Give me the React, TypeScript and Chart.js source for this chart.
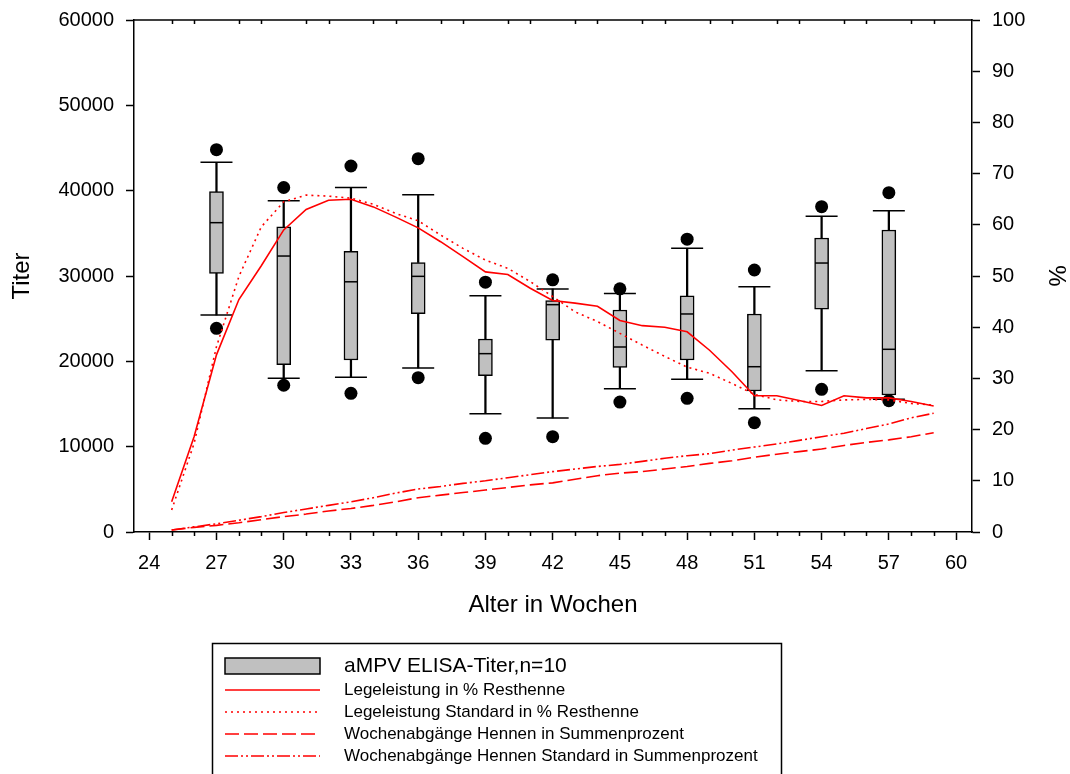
import { useEffect, useRef } from "react";
import { Chart, registerables } from "chart.js";

Chart.register(...registerables);

const FONT = "'Liberation Sans', Arial, Helvetica, sans-serif";

// Weekly flock curves (age in weeks)
const WEEKS = [
  25, 26, 27, 28, 29, 30, 31, 32, 33, 34, 35, 36, 37, 38, 39, 40, 41, 42,
  43, 44, 45, 46, 47, 48, 49, 50, 51, 52, 53, 54, 55, 56, 57, 58, 59,
];
const LAY_ACTUAL = [
  5.9, 18.6, 34.6, 45.4, 52.0, 59.0, 63.0, 64.8, 65.0, 63.5, 61.5, 59.4,
  56.7, 53.8, 50.8, 50.3, 47.6, 45.2, 44.7, 44.1, 41.3, 40.3, 40.0, 39.1,
  35.5, 31.3, 26.6, 26.6, 25.7, 24.7, 26.6, 26.2, 26.2, 25.5, 24.6,
];
const LAY_STANDARD = [
  4.3, 17.3, 36.2, 49.9, 59.6, 64.5, 65.8, 65.6, 65.2, 64.0, 62.2, 60.8,
  58.0, 55.4, 53.1, 51.5, 48.9, 46.0, 43.0, 41.1, 38.8, 36.5, 34.3, 32.2,
  31.0, 29.0, 26.9, 25.8, 25.5, 25.5, 25.8, 25.9, 25.8, 25.1, 24.8,
];
const LOSS_ACTUAL = [
  0.4, 0.9, 1.3, 1.8, 2.4, 3.0, 3.5, 4.1, 4.6, 5.2, 5.9, 6.7, 7.2, 7.7,
  8.2, 8.7, 9.2, 9.6, 10.3, 11.0, 11.5, 11.8, 12.3, 12.8, 13.4, 13.9, 14.6,
  15.2, 15.7, 16.2, 16.9, 17.5, 18.0, 18.6, 19.4,
];
const LOSS_STANDARD = [
  0.4, 1.0, 1.6, 2.3, 3.0, 3.8, 4.5, 5.2, 5.9, 6.7, 7.6, 8.4, 8.9, 9.5,
  10.0, 10.6, 11.2, 11.8, 12.3, 12.8, 13.2, 13.8, 14.4, 14.9, 15.3, 16.0,
  16.6, 17.2, 17.9, 18.6, 19.3, 20.2, 21.1, 22.3, 23.2,
];

// ELISA titre distribution per sampling week
const SAMPLE_WEEKS = [27, 30, 33, 36, 39, 42, 45, 48, 51, 54, 57];
const TITER_P05 = [23870, 17200, 16250, 18080, 10980, 11170, 15230, 15670, 12810, 16720, 15390];
const TITER_P10 = [25430, 18010, 18130, 19220, 13870, 13360, 16800, 17890, 14450, 18900, 15550];
const TITER_Q1 = [30310, 19620, 20160, 25600, 18320, 22470, 19300, 20160, 16520, 26100, 16050];
const TITER_MEDIAN = [36250, 32340, 29320, 29960, 20900, 26640, 21680, 25550, 19370, 31520, 21410];
const TITER_Q3 = [39880, 35760, 32900, 31580, 22620, 27110, 26020, 27670, 25550, 34450, 35390];
const TITER_P90 = [43320, 38830, 40370, 39530, 27690, 28480, 27950, 33250, 28750, 37000, 37650];
const TITER_P95 = [44800, 40370, 42890, 43750, 29280, 29550, 28500, 34320, 30700, 38120, 39760];

// Axis ticks
const X_TICKS = [24, 27, 30, 33, 36, 39, 42, 45, 48, 51, 54, 57, 60];
const Y_TICKS = [0, 10000, 20000, 30000, 40000, 50000, 60000];
const Y2_TICKS = [0, 10, 20, 30, 40, 50, 60, 70, 80, 90, 100];

const RED = "#ff0000";
const BOX_GREY = "#c0c0c0";

const pairs = (xs: number[], ys: number[]) => xs.map((x, i) => ({ x, y: ys[i] }));
const ranges = (xs: number[], lo: number[], hi: number[]) =>
  xs.map((x, i) => ({ x, y: [lo[i], hi[i]] }));

// Frame: top border plus the short weekly ticks on top and bottom edges
const framePlugin = {
  id: "frameTicks",
  afterDraw(chart: any) {
    const { ctx, chartArea: a, scales } = chart;
    const x = scales.x;
    ctx.save();
    ctx.strokeStyle = "#000";
    ctx.lineWidth = 1.5;
    ctx.beginPath();
    ctx.moveTo(a.left - 0.75, a.top);
    ctx.lineTo(a.right + 0.75, a.top);
    for (let w = Math.ceil(x.min); w <= Math.floor(x.max); w++) {
      if (w % 3 === 0) continue;
      const px = Math.round(x.getPixelForValue(w)) + 0.5;
      ctx.moveTo(px, a.bottom);
      ctx.lineTo(px, a.bottom + 4);
      ctx.moveTo(px, a.top);
      ctx.lineTo(px, a.top + 4);
    }
    ctx.stroke();
    ctx.restore();
  },
};

// Boxed legend below the plot
const legendPlugin = {
  id: "boxLegend",
  afterDraw(chart: any) {
    const { ctx } = chart;
    const left = 212.5;
    const top = 643.5;
    const right = 781.5;
    const rows = [666, 690, 712, 734, 756];
    const symL = 225;
    const symR = 320;
    const textX = 344;
    ctx.save();
    ctx.strokeStyle = "#000";
    ctx.lineWidth = 1.5;
    ctx.beginPath();
    ctx.moveTo(left, chart.height + 10);
    ctx.lineTo(left, top);
    ctx.lineTo(right, top);
    ctx.lineTo(right, chart.height + 10);
    ctx.stroke();

    const entries = chart.data.datasets.filter((d: any) => d.label);
    entries.forEach((d: any, i: number) => {
      const cy = rows[i];
      if (d.type === "bar") {
        ctx.fillStyle = d.backgroundColor;
        ctx.fillRect(symL, cy - 8, symR - symL, 16);
        ctx.strokeStyle = d.borderColor;
        ctx.lineWidth = 1.5;
        ctx.setLineDash([]);
        ctx.strokeRect(symL, cy - 8, symR - symL, 16);
      } else {
        ctx.strokeStyle = d.borderColor;
        ctx.lineWidth = d.borderWidth;
        ctx.setLineDash(d.borderDash || []);
        ctx.beginPath();
        ctx.moveTo(symL, cy);
        ctx.lineTo(symR, cy);
        ctx.stroke();
      }
      ctx.setLineDash([]);
      ctx.fillStyle = "#000";
      ctx.font = `${i === 0 ? 21 : 17}px ${FONT}`;
      ctx.textAlign = "left";
      ctx.textBaseline = "middle";
      ctx.fillText(d.label, textX, cy);
    });
    ctx.restore();
  },
};

const axisCommon = {
  grid: { drawOnChartArea: false, tickLength: 8, tickWidth: 1.5, tickColor: "#000" },
  border: { display: true, color: "#000", width: 1.5 },
};

// Fixed axis box sizes so the plot area sits at a known place
const fixWidth = (w: number) => (s: any) => {
  s.width = w;
  s.paddingTop = 0;
  s.paddingBottom = 0;
};

export default function App() {
  const ref = useRef<HTMLCanvasElement>(null);

  useEffect(() => {
    const canvas = ref.current;
    if (!canvas) return;
    Chart.defaults.font.family = FONT;
    Chart.defaults.color = "#000";

    const lineDs = (label: string, data: number[], dash: number[]) => ({
      type: "line",
      label,
      data: pairs(WEEKS, data),
      yAxisID: "y2",
      borderColor: RED,
      borderWidth: 1.6,
      borderDash: dash,
      borderCapStyle: "butt",
      pointRadius: 0,
      fill: false,
      tension: 0,
      order: 0,
    });

    const chart = new Chart(canvas, {
      type: "scatter",
      data: {
        datasets: [
          {
            type: "bar",
            label: "aMPV ELISA-Titer,n=10",
            data: ranges(SAMPLE_WEEKS, TITER_Q1, TITER_Q3),
            yAxisID: "y",
            backgroundColor: BOX_GREY,
            borderColor: "#000",
            borderWidth: 1.5,
            borderSkipped: false,
            barThickness: 14,
            grouped: false,
            order: 3,
          },
          lineDs("Legeleistung in % Resthenne", LAY_ACTUAL, []),
          lineDs("Legeleistung Standard in % Resthenne", LAY_STANDARD, [2, 4]),
          lineDs("Wochenabgänge Hennen in Summenprozent", LOSS_ACTUAL, [14, 5]),
          lineDs("Wochenabgänge Hennen Standard in Summenprozent", LOSS_STANDARD, [13, 3, 2, 3, 2, 3]),
          // whiskers
          {
            type: "bar",
            data: ranges(SAMPLE_WEEKS, TITER_P10, TITER_Q1),
            yAxisID: "y",
            backgroundColor: "#000",
            borderWidth: 0,
            barThickness: 1.6,
            grouped: false,
            order: 4,
          },
          {
            type: "bar",
            data: ranges(SAMPLE_WEEKS, TITER_Q3, TITER_P90),
            yAxisID: "y",
            backgroundColor: "#000",
            borderWidth: 0,
            barThickness: 1.6,
            grouped: false,
            order: 4,
          },
          // whisker caps
          {
            type: "scatter",
            data: [...pairs(SAMPLE_WEEKS, TITER_P10), ...pairs(SAMPLE_WEEKS, TITER_P90)],
            yAxisID: "y",
            pointStyle: "line",
            pointRadius: 16,
            borderColor: "#000",
            borderWidth: 1.5,
            order: 2,
          },
          // medians
          {
            type: "scatter",
            data: pairs(SAMPLE_WEEKS, TITER_MEDIAN),
            yAxisID: "y",
            pointStyle: "line",
            pointRadius: 6.5,
            borderColor: "#000",
            borderWidth: 1.5,
            order: 2,
          },
          // 5th / 95th percentile points
          {
            type: "scatter",
            data: [...pairs(SAMPLE_WEEKS, TITER_P05), ...pairs(SAMPLE_WEEKS, TITER_P95)],
            yAxisID: "y",
            pointStyle: "circle",
            pointRadius: 6.5,
            backgroundColor: "#000",
            borderColor: "#000",
            borderWidth: 0,
            order: 1,
          },
        ],
      } as any,
      options: {
        responsive: false,
        animation: false,
        devicePixelRatio: 1,
        events: [],
        layout: { padding: { top: 20, left: 0, right: 0, bottom: 154.6 } },
        plugins: {
          legend: { display: false },
          tooltip: { enabled: false },
        },
        scales: {
          x: {
            type: "linear",
            position: "bottom",
            min: 23.32,
            max: 60.71,
            offset: false,
            afterBuildTicks: (s: any) => {
              s.ticks = X_TICKS.map((value) => ({ value }));
            },
            afterFit: (s: any) => {
              s.height = 87.4;
              s.paddingLeft = 0;
              s.paddingRight = 0;
            },
            ...axisCommon,
            grid: { ...axisCommon.grid, offset: false },
            ticks: {
              font: { size: 20, family: FONT },
              color: "#000",
              padding: 11,
              maxRotation: 0,
              autoSkip: false,
              callback: (v: any) => String(v),
            },
            title: {
              display: true,
              text: "Alter in Wochen",
              font: { size: 24, family: FONT },
              color: "#000",
              padding: 0,
            },
          },
          y: {
            type: "linear",
            position: "left",
            min: 0,
            max: 60000,
            afterBuildTicks: (s: any) => {
              s.ticks = Y_TICKS.map((value) => ({ value }));
            },
            afterFit: fixWidth(134),
            ...axisCommon,
            ticks: {
              font: { size: 20, family: FONT },
              color: "#000",
              padding: 12,
              callback: (v: any) => String(v),
            },
            title: {
              display: true,
              text: "Titer",
              font: { size: 24, family: FONT },
              color: "#000",
              padding: { top: 8, bottom: 0 },
            },
          },
          y2: {
            type: "linear",
            position: "right",
            min: 0,
            max: 100,
            afterBuildTicks: (s: any) => {
              s.ticks = Y2_TICKS.map((value) => ({ value }));
            },
            afterFit: fixWidth(98),
            ...axisCommon,
            ticks: {
              font: { size: 20, family: FONT },
              color: "#000",
              padding: 12,
              callback: (v: any) => String(v),
            },
            title: {
              display: true,
              text: "%",
              font: { size: 24, family: FONT },
              color: "#000",
              padding: { top: 0, bottom: 0 },
            },
          },
        },
      } as any,
      plugins: [framePlugin, legendPlugin],
    });

    return () => chart.destroy();
  }, []);

  return (
    <div
      style={{
        position: "absolute",
        left: 0,
        top: 0,
        width: 1070,
        height: 774,
        background: "#fff",
        overflow: "hidden",
      }}
    >
      <canvas
        ref={ref}
        width={1070}
        height={774}
        style={{ display: "block", width: 1070, height: 774 }}
      />
    </div>
  );
}
